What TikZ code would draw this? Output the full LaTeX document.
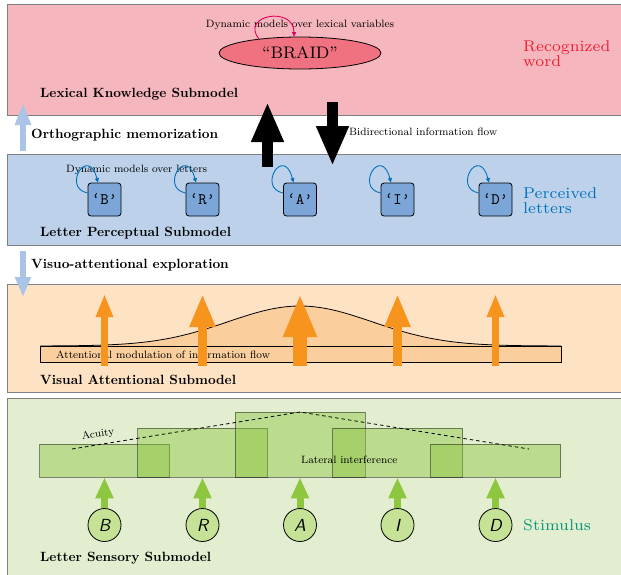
\documentclass[tikz,border=0pt]{standalone}
\usetikzlibrary{arrows.meta,shapes.geometric}
\definecolor{lexbg}{RGB}{246,182,189}
\definecolor{lexell}{RGB}{240,113,128}
\definecolor{lexred}{RGB}{237,32,52}
\definecolor{loopred}{RGB}{228,0,90}
\definecolor{perbg}{RGB}{189,210,234}
\definecolor{perbox}{RGB}{125,166,216}
\definecolor{perblue}{RGB}{0,114,188}
\definecolor{flowblue}{RGB}{170,196,232}
\definecolor{attbg}{RGB}{253,226,196}
\definecolor{attfill}{RGB}{251,206,157}
\definecolor{attor}{RGB}{247,148,30}
\definecolor{senbg}{RGB}{226,238,207}
\definecolor{sengr}{RGB}{141,198,63}
\definecolor{sencirc}{RGB}{197,226,150}
\definecolor{stimteal}{RGB}{10,150,125}
\definecolor{panelline}{RGB}{128,128,128}
\newcommand\txsmall[1]{\scalebox{1.33}{\fontsize{8}{9.6}\selectfont #1}}
\newcommand\txbold[1]{\scalebox{1.34}{\fontsize{10}{12}\selectfont\bfseries #1}}
\newcommand\txbig[1]{\scalebox{2.23}{\fontsize{7}{8}\selectfont #1}}
\newcommand\txtt[1]{\scalebox{1.6}{\fontsize{10}{12}\selectfont\ttfamily #1}}
\newcommand\txsf[1]{\scalebox{1.75}{\fontsize{10}{12}\selectfont\sffamily\itshape #1}}
\begin{document}
\begin{tikzpicture}[x=1pt,y=-1pt,
  panel/.style={draw=panelline,line width=0.8pt},
  lbl/.style={inner sep=0pt,anchor=base west},
  flowarr/.style={draw=flowblue,line width=6pt,-{Triangle[width=15pt,length=22pt]}},
  bigarr/.style={draw=black,line width=11.7pt,-{Triangle[width=30pt,length=40pt]}},
  lbox/.style={draw=black,fill=perbox,rounded corners=3pt,minimum size=33pt,inner sep=0pt,line width=0.8pt},
  bloop/.style={draw=perblue,line width=0.9pt,-{Triangle[length=4.5pt,width=4pt]}},
  oarr/.style={draw=attor},
  gbox/.style={draw=black,draw opacity=0.45,fill=sengr,fill opacity=0.45,minimum width=130pt,inner sep=0pt,line width=0.8pt},
  garr/.style={draw=sengr,line width=7pt,-{Triangle[width=17pt,length=21pt]}},
  ccirc/.style={circle,draw=black,fill=sencirc,minimum size=33pt,inner sep=0pt,line width=0.8pt}]
\useasboundingbox (0,0) rectangle (621,574);
% panels
\draw[panel,fill=lexbg] (7,4) rectangle (640,115);
\draw[panel,fill=perbg] (7,154) rectangle (640,245);
\draw[panel,fill=attbg] (7,284) rectangle (640,392);
\draw[panel,fill=senbg] (7,398) rectangle (640,600);
% ---------- lexical
\node[ellipse,draw=black,fill=lexell,minimum width=162pt,minimum height=32pt,inner sep=0pt,line width=0.8pt] (word) at (300,53) {\scalebox{2.09}{\fontsize{8}{9}\selectfont “BRAID”}};
\node[inner sep=0pt,anchor=base] (lexdyn) at (300,27) {\txsmall{Dynamic models over lexical variables}};
\draw[draw=loopred,line width=0.9pt,-{Triangle[length=4.5pt,width=4pt]}] (word.161) .. controls +(-19,-24) and +(0,-31) .. (word.110);
\node[lbl,text=lexred] (rec1) at (523,51) {\txbig{Recognized}};
\node[lbl,text=lexred] (rec2) at (523,66) {\txbig{word}};
\node[lbl] (lexlab) at (40,97) {\txbold{Lexical Knowledge Submodel}};
% ---------- between lexical and perceptual
\coordinate (om0) at (23,151);
\coordinate (om1) at (23,103);
\draw[flowarr] (om0) -- (om1);
\node[lbl] (omlab) at (31,138.5) {\txbold{Orthographic memorization}};
\coordinate (bu0) at (267.5,167);
\coordinate (bu1) at (267.5,102);
\draw[bigarr] (bu0) -- (bu1);
\coordinate (bd0) at (332.5,102);
\coordinate (bd1) at (332.5,166);
\draw[bigarr] (bd0) -- (bd1);
\node[lbl] (bidir) at (349,135) {\txsmall{Bidirectional information flow}};
% ---------- perceptual
\node[lbox] (pB) at (104.5,199.5) {\txtt{‘B’}};
\node[lbox] (pR) at (202.5,199.5) {\txtt{‘R’}};
\node[lbox] (pA) at (300,199.5) {\txtt{‘A’}};
\node[lbox] (pI) at (397.5,199.5) {\txtt{‘I’}};
\node[lbox] (pD) at (495.5,199.5) {\txtt{‘D’}};
\node[lbl] (perdyn) at (66,172) {\txsmall{Dynamic models over letters}};
\foreach \n in {pB,pR,pA,pI,pD}{
  \draw[bloop] ([yshift=6.5pt]\n.west) .. controls +(-26,-5) and +(-10,-38) .. ([xshift=-6.5pt]\n.north);
}
\node[lbl,text=perblue] (perc1) at (523,198) {\txbig{Perceived}};
\node[lbl,text=perblue] (perc2) at (523,213) {\txbig{letters}};
\node[lbl] (perlab) at (40,236) {\txbold{Letter Perceptual Submodel}};
% ---------- between perceptual and attentional
\coordinate (va0) at (23,251);
\coordinate (va1) at (23,297);
\draw[flowarr,-{Triangle[width=15pt,length=20pt]}] (va0) -- (va1);
\node[lbl] (valab) at (31,268.5) {\txbold{Visuo-attentional exploration}};
% ---------- attentional
\draw[fill=attfill,line width=0.8pt] (40,346) rectangle (561,362);
\fill[attfill] plot[domain=40:561,samples=120] (\x,{346-40*exp(-0.5*((\x-300)/72)^2)}) -- cycle;
\draw[line width=0.8pt] plot[domain=40:561,samples=120] (\x,{346-40*exp(-0.5*((\x-300)/72)^2)});
\node[lbl] (attmod) at (56,358) {\txsmall{Attentional modulation of information flow}};
\coordinate (oB0) at (104.5,366); \coordinate (oB1) at (104.5,294);
\coordinate (oR0) at (202.5,366); \coordinate (oR1) at (202.5,294);
\coordinate (oA0) at (300,366);   \coordinate (oA1) at (300,294);
\coordinate (oI0) at (397.5,366); \coordinate (oI1) at (397.5,294);
\coordinate (oD0) at (495.5,366); \coordinate (oD1) at (495.5,294);
\draw[oarr,line width=6.7pt,-{Triangle[width=16pt,length=23pt]}] (oB0) -- (oB1);
\draw[oarr,line width=9.3pt,-{Triangle[width=24pt,length=33pt]}] (oR0) -- (oR1);
\draw[oarr,line width=13.3pt,-{Triangle[width=31pt,length=43pt]}] (oA0) -- (oA1);
\draw[oarr,line width=9.3pt,-{Triangle[width=24pt,length=33pt]}] (oI0) -- (oI1);
\draw[oarr,line width=6.7pt,-{Triangle[width=16pt,length=23pt]}] (oD0) -- (oD1);
\node[lbl] (attlab) at (40,384) {\txbold{Visual Attentional Submodel}};
% ---------- sensory
\node[gbox,minimum height=33pt] (gB) at (104.5,460.5) {};
\node[gbox,minimum height=49pt] (gR) at (202.5,452.5) {};
\node[gbox,minimum height=65pt] (gA) at (300,444.5) {};
\node[gbox,minimum height=49pt] (gI) at (397.5,452.5) {};
\node[gbox,minimum height=33pt] (gD) at (495.5,460.5) {};
\coordinate (ac0) at (72,449);
\coordinate (ac1) at (300,412);
\coordinate (ac2) at (529,449);
\draw[line width=0.8pt,dash pattern=on 3.5pt off 3pt] (ac0) -- (ac1) -- (ac2);
\node[inner sep=0pt,rotate=9] (acuity) at (98,434.5) {\txsmall{Acuity}};
\node[lbl] (latint) at (301,463) {\txsmall{Lateral interference}};
\node[ccirc] (cB) at (104.5,525) {\txsf{B}};
\node[ccirc] (cR) at (202.5,525) {\txsf{R}};
\node[ccirc] (cA) at (300,525) {\txsf{A}};
\node[ccirc] (cI) at (397.5,525) {\txsf{I}};
\node[ccirc] (cD) at (495.5,525) {\txsf{D}};
\foreach \l in {B,R,A,I,D}{
  \draw[garr] (c\l.north) -- (g\l.south);
}
\node[lbl,text=stimteal] (stim) at (523,530) {\txbig{Stimulus}};
\node[lbl] (senlab) at (40,561) {\txbold{Letter Sensory Submodel}};
\end{tikzpicture}
\end{document}
